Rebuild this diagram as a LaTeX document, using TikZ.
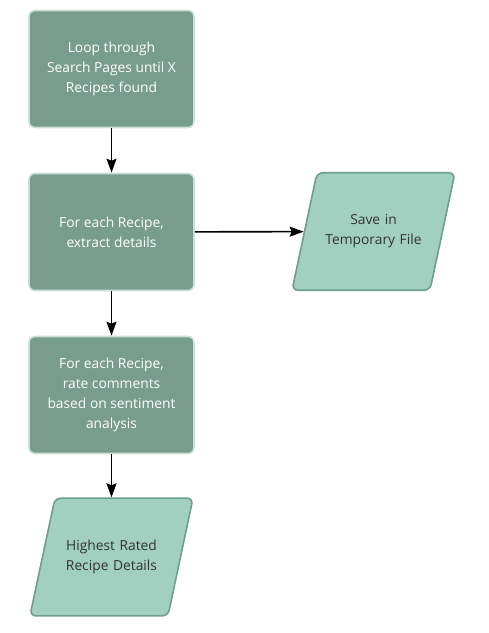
\documentclass[tikz,border=0pt]{standalone}
\usepackage{fontspec}
\setmainfont{Open Sans}
\usetikzlibrary{shapes.geometric,arrows.meta}

\definecolor{procfill}{HTML}{789D8C}
\definecolor{procline}{HTML}{C9E1D6}
\definecolor{iofill}{HTML}{A2D0C0}
\definecolor{ioline}{HTML}{6F9E8A}
\definecolor{iotext}{HTML}{333333}

\tikzset{
    procbox/.style={draw=procline, line width=1.6pt, fill=procfill, rounded corners=6pt,
        minimum width=165pt, minimum height=117pt, align=center, text=white,
        font=\fontsize{13.8}{20}\selectfont},
    iobox/.style={draw=ioline, line width=1.6pt, fill=iofill, rounded corners=6pt,
        trapezium, trapezium left angle=78, trapezium right angle=102,
        trapezium stretches=false, text width=100pt, inner xsep=6.5pt, inner ysep=42pt,
        align=center, text=iotext, font=\fontsize{13.8}{20}\selectfont},
    flow/.style={-{Stealth[length=14pt,width=10pt,inset=2pt]}, line width=1.6pt}
}

\begin{document}
\begin{tikzpicture}[x=1pt,y=1pt]
    \useasboundingbox (0,0) rectangle (489,-633);

    \foreach \name\ypos\txt in {loop/69/{Loop through\\Search Pages until X\\Recipes found},
                                extract/232/{For each Recipe,\\extract details},
                                rate/395/{For each Recipe,\\rate comments\\based on sentiment\\analysis}} {
        \node[procbox] (\name) at (111.5,-\ypos) {\txt};
    }

    \node[iobox] (save) at (373.5,-231.5) {Save in\\Temporary File};
    \node[iobox] (best) at (111.5,-557) {Highest Rated\\Recipe Details};

    \draw[flow] (loop) -- (extract);
    \draw[flow] (extract) -- (save);
    \draw[flow] (extract) -- (rate);
    \draw[flow] (rate) -- (best);
\end{tikzpicture}
\end{document}
